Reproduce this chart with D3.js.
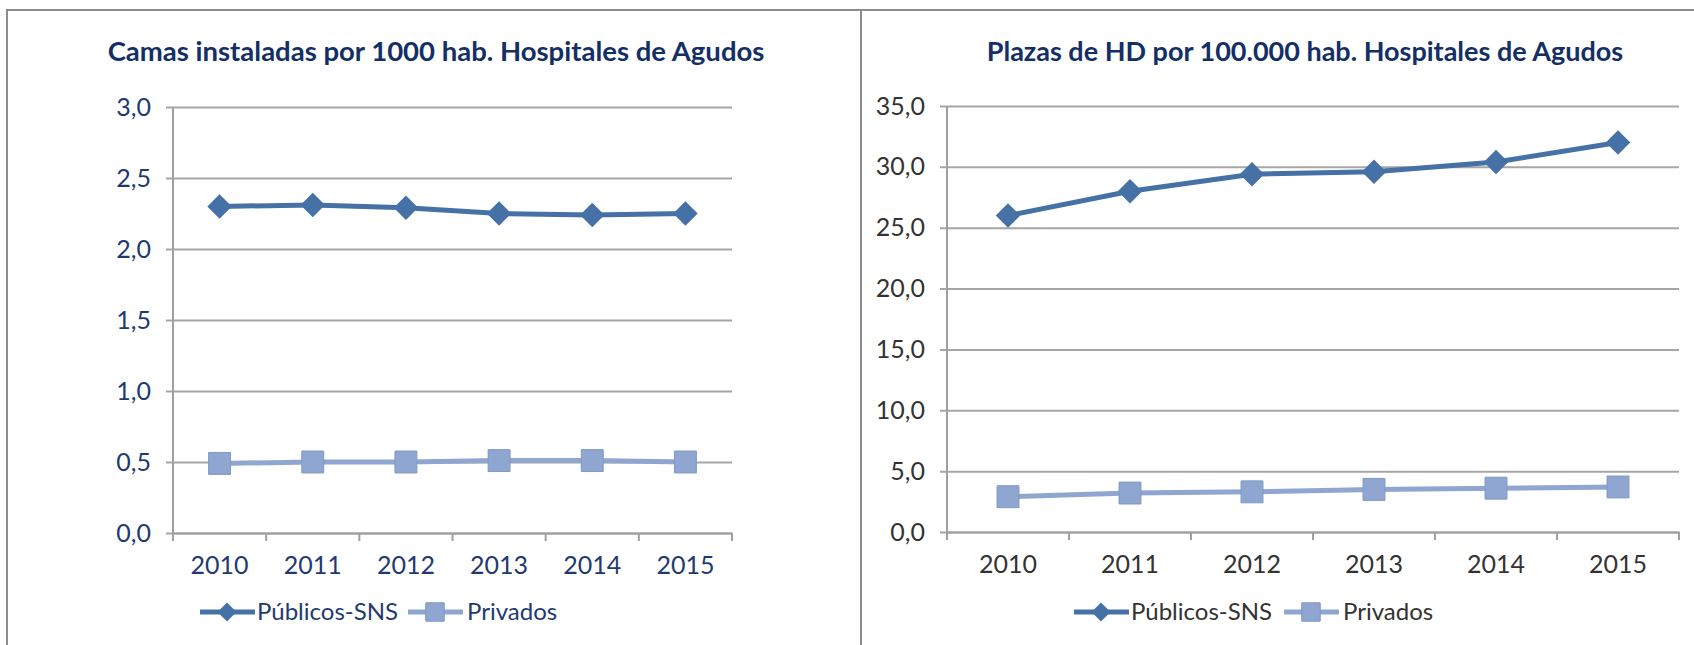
<!DOCTYPE html>
<html>
<head>
<meta charset="utf-8">
<script src="https://cdn.jsdelivr.net/npm/d3@7"></script>
<style>
  body { margin: 0; background: #fff; }
  svg { display: block; font-family: Lato, "Open Sans", sans-serif; }
</style>
</head>
<body>
<div id="chart"></div>
<script>
// data
var years = ["2010", "2011", "2012", "2013", "2014", "2015"];
var seriesNames = ["Públicos-SNS", "Privados"];

var camasPublicos = [2.30, 2.31, 2.29, 2.25, 2.24, 2.25];
var camasPrivados = [0.49, 0.50, 0.50, 0.51, 0.51, 0.50];
var camasTicks = [0, 0.5, 1.0, 1.5, 2.0, 2.5, 3.0];

var plazasPublicos = [26.0, 28.0, 29.4, 29.6, 30.4, 32.0];
var plazasPrivados = [2.9, 3.2, 3.3, 3.5, 3.6, 3.7];
var plazasTicks = [0, 5, 10, 15, 20, 25, 30, 35];

var titles = [
  "Camas instaladas por 1000 hab. Hospitales de Agudos",
  "Plazas de HD por 100.000 hab. Hospitales de Agudos"
];

var esLocale = d3.formatLocale({ decimal: ",", thousands: ".", grouping: [3], currency: ["", " €"] });
var fmt = esLocale.format(".1f");

var svgWidth = 1694, svgHeight = 645;
var svg = d3.select("#chart").append("svg")
  .attr("width", svgWidth)
  .attr("height", svgHeight);

// frame around both charts + divider
svg.append("path")
  .attr("d", "M7,645 V10 H1694 M861,10 V645")
  .attr("fill", "none")
  .attr("stroke", "#8c8c8c")
  .attr("stroke-width", 2);

var colPub = "#4571a6";
var colPriv = "#8ea6d0";

function drawPanel(cfg) {
  var x = d3.scaleBand().domain(years).range([cfg.left, cfg.right]);
  var y = d3.scaleLinear().domain([0, d3.max(cfg.ticks)]).range([cfg.bottom, cfg.top]);

  var g = svg.append("g");

  // title
  g.append("text")
    .attr("x", cfg.titleX)
    .attr("y", 61)
    .attr("text-anchor", "middle")
    .attr("font-size", cfg.titleSize)
    .attr("font-weight", "bold")
    .attr("fill", "#142f66")
    .text(cfg.title);

  // gridlines + y labels
  var yAxis = g.append("g")
    .attr("transform", "translate(" + cfg.left + ",0)")
    .call(d3.axisLeft(y).tickValues(cfg.ticks).tickFormat(fmt)
      .tickSize(-(cfg.right - cfg.left)).tickPadding(0));
  yAxis.select(".domain").remove();
  yAxis.selectAll(".tick line")
    .attr("x1", -7)
    .attr("stroke", "#a6a6a6")
    .attr("stroke-width", 2);
  yAxis.selectAll(".tick text")
    .attr("x", -22)
    .attr("font-size", "25px")
    .attr("font-family", "Lato, sans-serif")
    .attr("fill", cfg.textColor);

  // y axis line
  g.append("line")
    .attr("x1", cfg.left).attr("x2", cfg.left)
    .attr("y1", cfg.top).attr("y2", cfg.bottom)
    .attr("stroke", "#a0a0a0").attr("stroke-width", 2);

  // x axis: ticks between categories
  var xAxis = g.append("g")
    .attr("transform", "translate(0," + cfg.bottom + ")")
    .call(d3.axisBottom(x).tickSize(0).tickPadding(23));
  xAxis.select(".domain")
    .attr("stroke", "#a0a0a0").attr("stroke-width", 2);
  xAxis.selectAll(".tick text")
    .attr("font-size", "25px")
    .attr("font-family", "Lato, sans-serif")
    .attr("fill", cfg.textColor);
  var bounds = years.map(function(d) { return x(d); }).concat([cfg.right]);
  xAxis.selectAll(".sep").data(bounds).enter().append("line")
    .attr("x1", function(d) { return d; }).attr("x2", function(d) { return d; })
    .attr("y1", 0).attr("y2", 8)
    .attr("stroke", "#a0a0a0").attr("stroke-width", 2);

  var cx = function(d, i) { return x(years[i]) + x.bandwidth() / 2; };
  var line = d3.line().x(cx).y(function(d) { return y(d); });

  // Privados
  g.append("path").datum(cfg.priv)
    .attr("d", line).attr("fill", "none")
    .attr("stroke", colPriv).attr("stroke-width", 5);
  g.selectAll(".sq").data(cfg.priv).enter().append("path")
    .attr("d", d3.symbol(d3.symbolSquare, 480))
    .attr("transform", function(d, i) { return "translate(" + cx(d, i) + "," + y(d) + ")"; })
    .attr("fill", colPriv).attr("stroke", "#7f98c5").attr("stroke-width", 1);

  // Públicos
  g.append("path").datum(cfg.pub)
    .attr("d", line).attr("fill", "none")
    .attr("stroke", colPub).attr("stroke-width", 5);
  g.selectAll(".dm").data(cfg.pub).enter().append("path")
    .attr("d", d3.symbol(d3.symbolSquare, 300))
    .attr("transform", function(d, i) { return "translate(" + cx(d, i) + "," + y(d) + ") rotate(45)"; })
    .attr("fill", colPub);

  // legend
  var lg = g.append("g").attr("transform", "translate(" + cfg.legendX + ",612)");
  lg.append("line").attr("x1", 0).attr("x2", 55)
    .attr("stroke", colPub).attr("stroke-width", 5);
  lg.append("path").attr("d", d3.symbol(d3.symbolSquare, 180))
    .attr("transform", "translate(27,0) rotate(45)").attr("fill", colPub);
  lg.append("text").attr("x", 57).attr("dy", "0.35em")
    .attr("font-size", "24px").attr("fill", cfg.textColor).text(seriesNames[0]);
  lg.append("line").attr("x1", cfg.legendGap).attr("x2", cfg.legendGap + 55)
    .attr("stroke", colPriv).attr("stroke-width", 5);
  lg.append("path").attr("d", d3.symbol(d3.symbolSquare, 340))
    .attr("transform", "translate(" + (cfg.legendGap + 27) + ",0)")
    .attr("fill", colPriv).attr("stroke", "#7f98c5").attr("stroke-width", 1);
  lg.append("text").attr("x", cfg.legendGap + 59).attr("dy", "0.35em")
    .attr("font-size", "24px").attr("fill", cfg.textColor).text(seriesNames[1]);
}

drawPanel({
  title: titles[0], titleX: 436, titleSize: "27.5px",
  left: 173, right: 732, top: 107, bottom: 533,
  ticks: camasTicks, pub: camasPublicos, priv: camasPrivados,
  textColor: "#1f3a70", legendX: 200, legendGap: 208
});

drawPanel({
  title: titles[1], titleX: 1305, titleSize: "27px",
  left: 947, right: 1679, top: 106, bottom: 532,
  ticks: plazasTicks, pub: plazasPublicos, priv: plazasPrivados,
  textColor: "#333333", legendX: 1074, legendGap: 210
});
</script>
</body>
</html>
